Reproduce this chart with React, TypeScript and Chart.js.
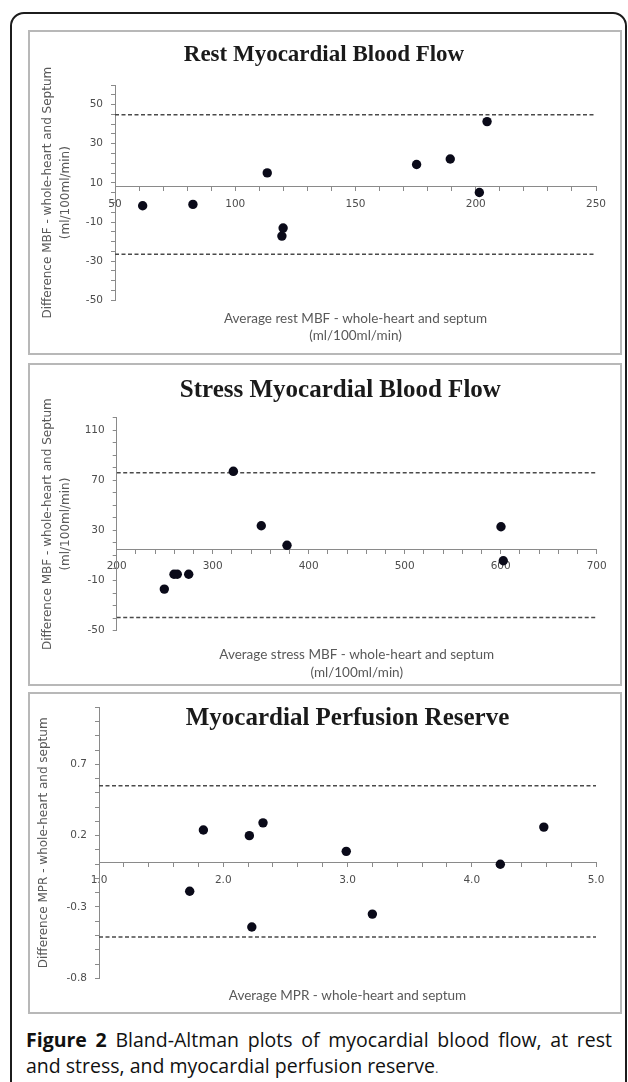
import React, { useEffect, useRef } from 'react';
import { Chart, registerables } from 'chart.js';

Chart.register(...registerables);

// ---------- Data: Rest myocardial blood flow ----------
const restAverage = [61.5, 82.4, 113.3, 119.9, 119.4, 175.4, 189.4, 201.5, 204.7];
const restDifference = [-1.7, -1.0, 15.1, -13.1, -17.2, 19.4, 22.2, 5.1, 41.3];
const restBias = 8;
const restLimits = [44.8, -26.5];
const restXRange = [50, 250];
const restYRange = [-50, 60];
const restXTicks = [50, 100, 150, 200, 250];
const restYTicks = [-50, -30, -10, 10, 30, 50];

// ---------- Data: Stress myocardial blood flow ----------
const stressAverage = [249.6, 259.7, 263.1, 275.0, 321.5, 350.6, 377.4, 600.3, 602.7];
const stressDifference = [-16.8, -5.0, -5.0, -5.0, 77.1, 33.7, 18.1, 32.9, 5.8];
const stressBias = 15.1;
const stressLimits = [76, -39.5];
const stressXRange = [200, 700];
const stressYRange = [-50, 120];
const stressXTicks = [200, 300, 400, 500, 600, 700];
const stressYTicks = [-50, -10, 30, 70, 110];

// ---------- Data: Myocardial perfusion reserve ----------
const mprAverage = [1.73, 1.84, 2.21, 2.23, 2.32, 2.99, 3.2, 4.23, 4.58];
const mprDifference = [-0.19, 0.24, 0.2, -0.44, 0.29, 0.09, -0.35, 0.0, 0.26];
const mprBias = 0.01;
const mprLimits = [0.55, -0.51];
const mprXRange = [1, 5];
const mprYRange = [-0.8, 1.1];
const mprXTicks = [1, 2, 3, 4, 5];
const mprYTicks = [-0.8, -0.3, 0.2, 0.7];

// ---------- Styling ----------
const POINT_COLOR = '#0a0a19';
const LIMIT_COLOR = '#4a4a4a';
const AXIS_COLOR = '#8a8a8a';
const LABEL_COLOR = '#4d4d4d';
const TITLE_COLOR = '#595959';

const panels: any[] = [
  {
    key: 'rest',
    title: 'Rest Myocardial Blood Flow',
    titleSize: 23,
    titleFull: true,
    titlePad: { top: 10.9, bottom: 16.5 },
    xTitle: ['Average rest MBF - whole-heart and septum', '(ml/100ml/min)'],
    xTitlePad: { top: 9.25, bottom: 9.9 },
    xTitleFull: false,
    yTitle: ['Difference MBF - whole-heart and Septum', '(ml/100ml/min)'],
    yTitlePad: -13,
    xs: restAverage, ys: restDifference, bias: restBias, limits: restLimits,
    xRange: restXRange, yRange: restYRange, xMinor: 10, yMinor: 5,
    xTicks: restXTicks, yTicks: restYTicks, xDec: 0, yDec: 0,
    left: 29, top: 30, w: 590, h: 324, padLeft: 23, yWidth: 63, padRight: 23,
  },
  {
    key: 'stress',
    title: 'Stress Myocardial Blood Flow',
    titleSize: 25,
    titleFull: true,
    titlePad: { top: 11.8, bottom: 11.7 },
    xTitle: ['Average stress MBF - whole-heart and septum', '(ml/100ml/min)'],
    xTitlePad: { top: 15.65, bottom: 5.07 },
    xTitleFull: false,
    yTitle: ['Difference MBF - whole-heart and Septum', '(ml/100ml/min)'],
    yTitlePad: -45,
    xs: stressAverage, ys: stressDifference, bias: stressBias, limits: stressLimits,
    xRange: stressXRange, yRange: stressYRange, xMinor: 20, yMinor: 10,
    xTicks: stressXTicks, yTicks: stressYTicks, xDec: 0, yDec: 0,
    left: 29, top: 364, w: 634, h: 322, padLeft: 55, yWidth: 32.7, padRight: 66.3,
  },
  {
    key: 'mpr',
    title: 'Myocardial Perfusion Reserve',
    titleSize: 25,
    titleFull: false,
    titlePad: { top: 10.3, bottom: -26.1 },
    xTitle: 'Average MPR - whole-heart and septum',
    xTitlePad: { top: 9.05, bottom: 8.36 },
    xTitleFull: false,
    yTitle: 'Difference MPR - whole-heart and septum',
    yTitlePad: 6,
    xs: mprAverage, ys: mprDifference, bias: mprBias, limits: mprLimits,
    xRange: mprXRange, yRange: mprYRange, xMinor: 0.2, yMinor: 0.1,
    xTicks: mprXTicks, yTicks: mprYTicks, xDec: 1, yDec: 1,
    left: 29, top: 693, w: 640, h: 320, padLeft: 0, yWidth: 70, padRight: 73,
  },
];

const isMajor = (v: number, majors: number[]) => majors.some((m) => Math.abs(m - v) < 1e-6);

function buildConfig(p: any): any {
  const points = p.xs.map((x: number, i: number) => ({ x, y: p.ys[i] }));
  const limitLine = (y: number) => ({
    data: [
      { x: p.xRange[0], y },
      { x: p.xRange[1], y },
    ],
    showLine: true,
    pointRadius: 0,
    borderColor: LIMIT_COLOR,
    borderWidth: 1.5,
    borderDash: [4, 2.5],
    fill: false,
  });
  const tickFont = { family: 'DejaVu Sans', size: 10.5, lineHeight: 1.2 };
  return {
    type: 'scatter',
    data: {
      datasets: [
        {
          data: points,
          pointRadius: 4.7,
          pointBackgroundColor: POINT_COLOR,
          pointBorderWidth: 0,
          showLine: false,
        },
        limitLine(p.limits[0]),
        limitLine(p.limits[1]),
      ],
    },
    options: {
      responsive: false,
      animation: false,
      devicePixelRatio: 1,
      events: [],
      layout: { padding: { left: p.padLeft, top: 0, bottom: 0, right: p.padRight } },
      plugins: {
        legend: { display: false },
        tooltip: { enabled: false },
        title: {
          display: true,
          fullSize: p.titleFull,
          text: p.title,
          color: '#1a1a1a',
          font: { family: 'Liberation Serif', size: p.titleSize, weight: 'bold', lineHeight: 1.2 },
          padding: p.titlePad,
        },
        subtitle: {
          display: true,
          position: 'bottom',
          fullSize: p.xTitleFull,
          text: p.xTitle,
          color: TITLE_COLOR,
          font: { family: 'Lato', size: 13.5, lineHeight: 1.28 },
          padding: p.xTitlePad,
        },
      },
      scales: {
        x: {
          type: 'linear',
          position: { y: p.bias },
          min: p.xRange[0],
          max: p.xRange[1],
          ticks: {
            stepSize: p.xMinor,
            autoSkip: false,
            maxRotation: 0,
            minRotation: 0,
            padding: 7,
            color: LABEL_COLOR,
            font: tickFont,
            callback: (v: any) => (isMajor(Number(v), p.xTicks) ? Number(v).toFixed(p.xDec) : ''),
          },
          grid: { display: true, drawOnChartArea: false, drawTicks: true, tickLength: 4, color: AXIS_COLOR },
          border: { display: true, color: AXIS_COLOR, width: 1 },
        },
        y: {
          type: 'linear',
          position: 'left',
          min: p.yRange[0],
          max: p.yRange[1],
          afterFit: (s: any) => {
            s.width = p.yWidth;
          },
          ticks: {
            stepSize: p.yMinor,
            autoSkip: false,
            padding: 8,
            color: LABEL_COLOR,
            font: tickFont,
            callback: (v: any) => (isMajor(Number(v), p.yTicks) ? Number(v).toFixed(p.yDec) : ''),
          },
          grid: { display: true, drawOnChartArea: false, drawTicks: true, tickLength: 4, color: AXIS_COLOR },
          border: { display: true, color: AXIS_COLOR, width: 1 },
          title: {
            display: true,
            text: p.yTitle,
            color: TITLE_COLOR,
            font: { family: 'DejaVu Sans', size: 12, lineHeight: 1.5 },
            padding: { top: p.yTitlePad, bottom: 0 },
          },
        },
      },
    },
  };
}

function BlandAltmanChart({ spec }: { spec: any }) {
  const ref = useRef<HTMLCanvasElement>(null);
  useEffect(() => {
    if (!ref.current) return;
    const chart = new Chart(ref.current, buildConfig(spec));
    return () => chart.destroy();
  }, [spec]);
  return (
    <canvas
      ref={ref}
      width={spec.w}
      height={spec.h}
      style={{ position: 'absolute', left: spec.left, top: spec.top, width: spec.w, height: spec.h }}
    />
  );
}

const panelBoxes = [
  { top: 30, height: 325 },
  { top: 363, height: 323 },
  { top: 692, height: 322 },
];

export default function App() {
  return (
    <div
      style={{
        position: 'absolute',
        left: 0,
        top: 0,
        width: 628,
        height: 1082,
        overflow: 'hidden',
        background: '#ffffff',
      }}
    >
      <div
        style={{
          position: 'absolute',
          left: 10,
          top: 12,
          width: 617,
          height: 1090,
          boxSizing: 'border-box',
          border: '2px solid #1c1c1c',
          borderRadius: 14,
        }}
      />
      {panelBoxes.map((b, i) => (
        <div
          key={i}
          style={{
            position: 'absolute',
            left: 28,
            top: b.top,
            width: 594,
            height: b.height,
            boxSizing: 'border-box',
            border: '2px solid #b8b8b8',
          }}
        />
      ))}
      {panels.map((p) => (
        <BlandAltmanChart key={p.key} spec={p} />
      ))}
      <div
        style={{
          position: 'absolute',
          left: 26,
          top: 1027,
          width: 586,
          fontFamily: '"Open Sans", "Noto Sans", sans-serif',
          fontSize: 19.5,
          lineHeight: '26px',
          color: '#111111',
        }}
      >
        <div style={{ textAlign: 'justify', textAlignLast: 'justify' as any, whiteSpace: 'nowrap' }}>
          <b>Figure 2</b> Bland-Altman plots of myocardial blood flow, at rest
        </div>
        <div>
          and stress, and myocardial perfusion reserve<span style={{ fontSize: 13, color: '#555' }}>.</span>
        </div>
      </div>
    </div>
  );
}
